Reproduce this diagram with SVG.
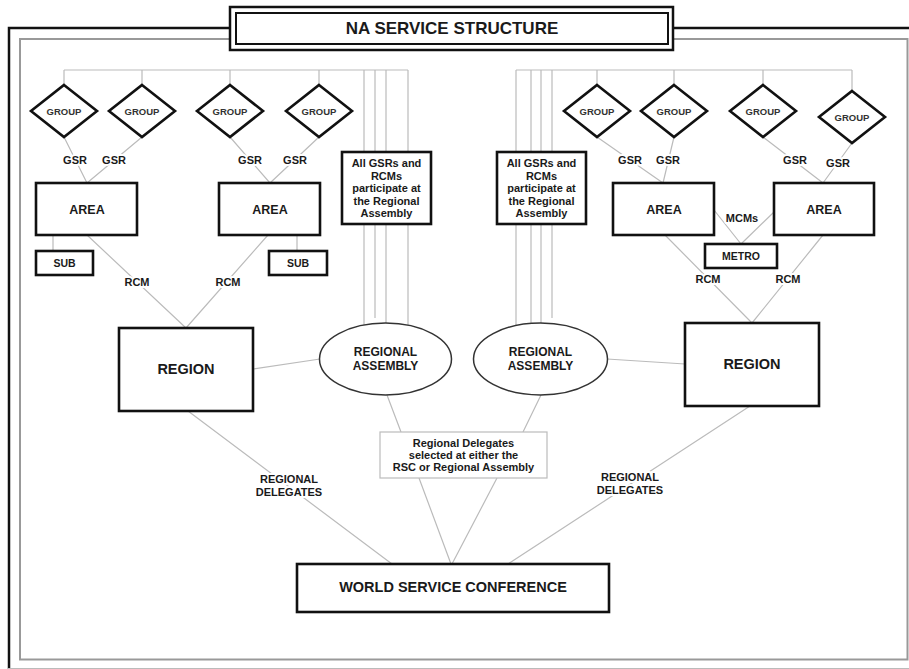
<svg xmlns="http://www.w3.org/2000/svg" width="909" height="669" viewBox="0 0 909 669">
<style>
.box{fill:#fff;stroke:#111;stroke-width:2.6}
.dia{fill:#fff;stroke:#111;stroke-width:2.6}
.ell{fill:#fff;stroke:#333;stroke-width:1.5}
.note{fill:#fff;stroke:#bbb;stroke-width:1.2}
.conn{fill:none;stroke:#bbb;stroke-width:1.2}
.t{font-family:"Liberation Sans",Arial,sans-serif;font-weight:bold;fill:#1a1a1a;text-anchor:middle}
.g{font-size:9.5px;fill:#333}
.lbl{font-size:11px;paint-order:stroke;stroke:#fff;stroke-width:4px;stroke-linejoin:round}
.s{font-size:10.5px}
</style>
<rect width="909" height="669" fill="#fff"/>
<g id="frame">
<path d="M9,669V28H930" fill="none" stroke="#111" stroke-width="2.5"/>
<path d="M8,668.5H909" fill="none" stroke="#bbb" stroke-width="1"/>
<rect x="20" y="39" width="887.5" height="620.5" fill="none" stroke="#999" stroke-width="2"/>
</g>
<g id="title">
<rect x="230" y="7" width="443" height="43" fill="#fff" stroke="#111" stroke-width="2.5"/>
<rect x="236" y="13" width="432" height="31" fill="none" stroke="#111" stroke-width="2"/>
<text class="t" x="452" y="34" font-size="17">NA SERVICE STRUCTURE</text>
</g>
<g id="connectors">
<path class="conn" d="M64,70H408M64,70V85M142,70V85M230,70V85M319,70V85M364,70V325M375,70V318M386,70V323M408,70V325"/>
<path class="conn" d="M516,70H852M597,70V85M674,70V85M763,70V85M852,70V91M516,70V325M531,70V323M541,70V323M552,70V318"/>
<path class="conn" d="M64,137L87,183M142,137L87,183M230,137L270,183M319,137L270,183M597,137L663,183M674,137L663,183M763,137L823,183M852,143L823,183"/>
<path class="conn" d="M53,235V251M297,235V251"/>
<path class="conn" d="M87,235L186,328M268,235L186,328M665,235L752,323M823,235L752,323"/>
<path class="conn" d="M714,210L741,244M774,212L741,244"/>
<path class="conn" d="M253,369L320,359M607,359L685,364"/>
<path class="conn" d="M387,395L401,432M541,395L523,432"/>
<path class="conn" d="M419,478L451,564M497,478L452,564"/>
<path class="conn" d="M188,411L392,564M750,406L508,564"/>
<g class="t">
<text class="lbl" x="75" y="164">GSR</text>
<text class="lbl" x="114" y="164">GSR</text>
<text class="lbl" x="250" y="164">GSR</text>
<text class="lbl" x="295" y="164">GSR</text>
<text class="lbl" x="630" y="164">GSR</text>
<text class="lbl" x="668" y="164">GSR</text>
<text class="lbl" x="795" y="164">GSR</text>
<text class="lbl" x="838" y="167">GSR</text>
<text class="lbl" x="137" y="286" font-size="10.5">RCM</text>
<text class="lbl" x="228" y="286" font-size="10.5">RCM</text>
<text class="lbl" x="708" y="283" font-size="10.5">RCM</text>
<text class="lbl" x="788" y="283" font-size="10.5">RCM</text>
<text class="lbl" x="742" y="222" font-size="10.5">MCMs</text>
<text class="lbl" x="289" y="483">REGIONAL</text>
<text class="lbl" x="289" y="496">DELEGATES</text>
<text class="lbl" x="630" y="481">REGIONAL</text>
<text class="lbl" x="630" y="494">DELEGATES</text>
</g>
</g>
<g id="group1"><polygon class="dia" points="64,85 97,111 64,137 31,111"/><text class="t g" x="64" y="114.5">GROUP</text></g>
<g id="group2"><polygon class="dia" points="142,85 175,111 142,137 109,111"/><text class="t g" x="142" y="114.5">GROUP</text></g>
<g id="group3"><polygon class="dia" points="230,85 263,111 230,137 197,111"/><text class="t g" x="230" y="114.5">GROUP</text></g>
<g id="group4"><polygon class="dia" points="319,85 352,111 319,137 286,111"/><text class="t g" x="319" y="114.5">GROUP</text></g>
<g id="group5"><polygon class="dia" points="597,85 630,111 597,137 564,111"/><text class="t g" x="597" y="114.5">GROUP</text></g>
<g id="group6"><polygon class="dia" points="674,85 707,111 674,137 641,111"/><text class="t g" x="674" y="114.5">GROUP</text></g>
<g id="group7"><polygon class="dia" points="763,85 796,111 763,137 730,111"/><text class="t g" x="763" y="114.5">GROUP</text></g>
<g id="group8"><polygon class="dia" points="852,91 885,117 852,143 819,117"/><text class="t g" x="852" y="120.5">GROUP</text></g>
<g id="area1"><rect class="box" x="36" y="183" width="101" height="52"/><text class="t" x="87" y="213.5" font-size="12.5">AREA</text></g>
<g id="area2"><rect class="box" x="219" y="183" width="101" height="52"/><text class="t" x="270" y="213.5" font-size="12.5">AREA</text></g>
<g id="area3"><rect class="box" x="613" y="183" width="101" height="52"/><text class="t" x="664" y="213.5" font-size="12.5">AREA</text></g>
<g id="area4"><rect class="box" x="774" y="183" width="100" height="52"/><text class="t" x="824" y="213.5" font-size="12.5">AREA</text></g>
<g id="sub1"><rect class="box" x="36" y="251" width="57" height="24"/><text class="t s" x="64.5" y="266.5">SUB</text></g>
<g id="sub2"><rect class="box" x="269" y="251" width="58" height="24"/><text class="t s" x="298" y="266.5">SUB</text></g>
<g id="metro"><rect class="box" x="705" y="244" width="72" height="24"/><text class="t s" x="741" y="259.5">METRO</text></g>
<g id="info1"><rect class="box" x="342" y="152" width="89" height="72"/>
<text class="t" font-size="11" x="386.5"><tspan x="386.5" y="167">All GSRs and</tspan><tspan x="386.5" y="179.5">RCMs</tspan><tspan x="386.5" y="192">participate at</tspan><tspan x="386.5" y="204.5">the Regional</tspan><tspan x="386.5" y="217">Assembly</tspan></text></g>
<g id="info2"><rect class="box" x="497" y="152" width="89" height="72"/>
<text class="t" font-size="11" x="541.5"><tspan x="541.5" y="167">All GSRs and</tspan><tspan x="541.5" y="179.5">RCMs</tspan><tspan x="541.5" y="192">participate at</tspan><tspan x="541.5" y="204.5">the Regional</tspan><tspan x="541.5" y="217">Assembly</tspan></text></g>
<g id="region1"><rect class="box" x="119" y="328" width="134" height="83"/><text class="t" x="186" y="374" font-size="14.5">REGION</text></g>
<g id="region2"><rect class="box" x="685" y="323" width="134" height="83"/><text class="t" x="752" y="369" font-size="14.5">REGION</text></g>
<g id="assembly1"><ellipse class="ell" cx="385.5" cy="359" rx="66" ry="36"/><text class="t" font-size="12" x="385.5"><tspan x="385.5" y="356">REGIONAL</tspan><tspan x="385.5" y="369.5">ASSEMBLY</tspan></text></g>
<g id="assembly2"><ellipse class="ell" cx="540.5" cy="359" rx="67" ry="36"/><text class="t" font-size="12" x="540.5"><tspan x="540.5" y="356">REGIONAL</tspan><tspan x="540.5" y="369.5">ASSEMBLY</tspan></text></g>
<g id="delegates"><rect class="note" x="380" y="432" width="167" height="46"/>
<text class="t" font-size="11" x="463.5"><tspan x="463.5" y="447">Regional Delegates</tspan><tspan x="463.5" y="459">selected at either the</tspan><tspan x="463.5" y="471">RSC or Regional Assembly</tspan></text></g>
<g id="wsc"><rect class="box" x="297" y="564" width="312" height="48"/><text class="t" x="453" y="592" font-size="14.5">WORLD SERVICE CONFERENCE</text></g>
</svg>
